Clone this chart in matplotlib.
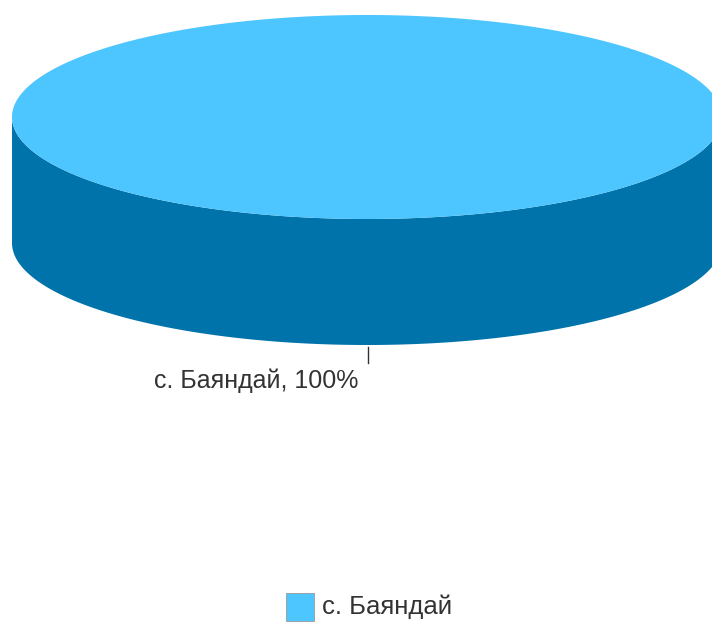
import numpy as np
import matplotlib.pyplot as plt
from matplotlib.patches import Polygon, Rectangle

labels = ['с. Баяндай']
values = [100]
top_colors = ['#4dc6ff']
side_colors = ['#0073aa']

W, H = 712, 622
fig = plt.figure(figsize=(W / 100, H / 100), dpi=100)
ax = fig.add_axes([0, 0, 1, 1])
ax.set_xlim(0, W)
ax.set_ylim(H, 0)
ax.axis('off')

# geometry of the 3d pie, in pixels
cx, cy = 367, 117
a, b = 355, 102
depth = 126

total = sum(values)
start = np.pi / 2
for val, lab, ctop, cside in zip(values, labels, top_colors, side_colors):
    span = 2 * np.pi * val / total
    t = np.linspace(start, start + span, 400)
    # side: visible front half only
    tf = np.sort(np.mod(t, 2 * np.pi))
    tf = tf[np.sin(tf) >= 0]
    xs = cx + a * np.cos(tf)
    ys = cy + b * np.sin(tf)
    side = np.vstack([np.column_stack([xs, ys]),
                      np.column_stack([xs[::-1], ys[::-1] + depth])])
    ax.add_patch(Polygon(side, closed=True, fc=cside, ec='none'))
    pts = np.column_stack([cx + a * np.cos(t), cy + b * np.sin(t)])
    if val < total:
        pts = np.vstack([[cx, cy], pts])
    ax.add_patch(Polygon(pts, closed=True, fc=ctop, ec='none'))

    # label with leader line at bottom of the pie
    pct = 100 * val / total
    lx = cx + 1
    ax.plot([lx, lx], [cy + b + depth + 2, cy + b + depth + 18], color='#333333', lw=1)
    ax.text(lx - 10, 381, f'{lab}, {pct:.0f}%', ha='right', va='center',
            fontsize=18, family='Liberation Sans', color='#333333')

# legend
ax.add_patch(Rectangle((286, 593), 28, 28, fc=top_colors[0], ec='#999999', lw=0.6))
ax.text(322, 607, labels[0], ha='left', va='center', fontsize=18.5,
        family='Liberation Sans', color='#333333')

fig.savefig('out.png', dpi=100)
